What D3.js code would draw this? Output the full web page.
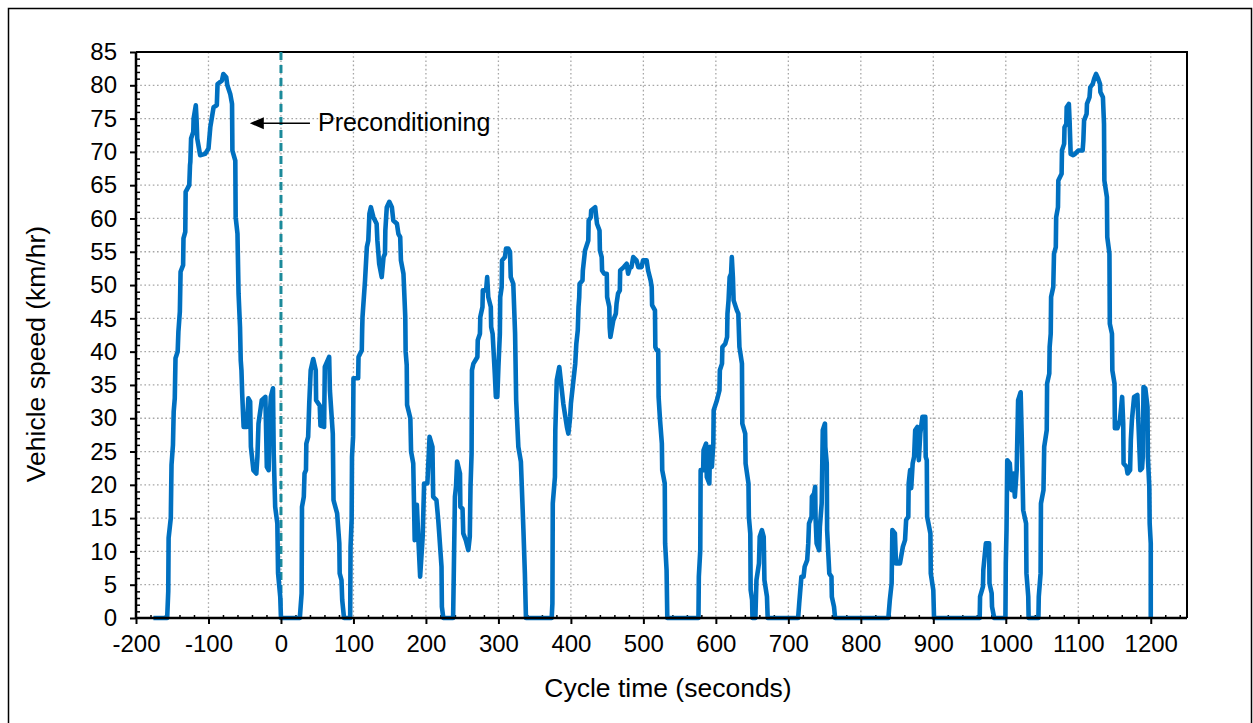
<!DOCTYPE html>
<html>
<head>
<meta charset="utf-8">
<script src="https://cdn.jsdelivr.net/npm/d3@7"></script>
<style>
  body { margin: 0; background: #fff; }
  svg { display: block; }
  text { font-family: "Liberation Sans", Arial, Helvetica, sans-serif; fill: #000; }
</style>
</head>
<body>
<svg id="chart" width="1253" height="723"></svg>
<script>
// Preconditioning run before the cycle starts (time in s, speed in km/h)
const preTime = [-176,-157,-155.5,-155,-152,-151,-149,-148,-146.5,-145.5,-142.5,-141.5,-139.5,-138.5,-135,-134.5,-132,-131.5,-126.5,-125.5,-125,-124,-121,-120.5,-117.5,-116.5,-115.5,-111.5,-104.5,-100,-97.5,-93,-88.5,-87.5,-81.5,-79.5,-75.5,-74,-70,-67.5,-67,-63,-62.5,-60,-58.5,-56.5,-55.5,-54.5,-53.5,-51.5,-47,-45,-42.5,-41.5,-38,-34,-32.5,-31,-26.5,-21.5,-20.5,-19.5,-17,-16,-14,-11,-10,-8,-5,-4,-1,0];
const preSpeed = [0,0,4,12,15,23,26,31,33,39,40,43,46,52,53,57,58,64,65,68,68.5,72,73,75,77,75,72,69.5,69.7,70.5,73.7,76.7,77,80.2,80.7,81.7,81.2,80,78.7,77.2,70.2,68.7,60.2,57.7,48.7,43.7,38.7,37.2,33.7,28.7,28.7,33,32.5,25.7,22.2,21.7,24.2,29.2,32.7,33.2,28.2,22.7,22.2,29.2,33.2,34.5,24.7,16.7,14.2,6.7,3.2,0];

// Test cycle, 0 to 1200 s
const cycleTime = [0,26,28.5,29,31.5,32.5,34.5,35,37.5,39,41,44.5,48,48.5,53.5,54.5,59.5,60.5,66.5,67.5,71.5,72.5,77.5,80.5,81,83.5,84.5,87,95.5,96,97.5,98,99.5,100,106.5,107,111.5,112,112.5,116,118.5,120.5,122,124,127.5,132,133,135.5,139,141.5,143.5,144,146,149.5,153,155,160,162,164.5,165.5,169,171.5,172,173.5,174,178.5,179.5,182.5,183.5,184.5,187.5,189.5,192,195.5,197.5,202,205,209,210,214.5,217,218,221.5,222,224,237.5,238.5,240,241.5,243,247,247.5,250.5,251.5,255,258.5,260.5,261.5,263,263.5,265.5,271,271.5,274.5,275,278,278.5,283,284.5,286,289.5,290,292,295,296.5,298.5,300,302,302.5,304.5,305,309,310.5,313.5,316,317,320.5,323,324.5,327.5,331,334.5,336.5,338,373.5,374.5,375,378,378.5,380.5,384,389.5,394.5,396.5,399,400,402.5,406,407.5,409.5,410.5,411.5,412,416,416.5,419.5,424,424.5,427.5,428,433.5,436,439.5,440,442.5,443,446,449.5,450,453,453.5,454.5,458.5,462,463,465,467.5,468,473,477,479,481.5,483.5,486,490.5,493,497.5,499.5,504.5,506.5,510,511.5,512,516,516.5,518.5,520.5,521,523,525.5,526,529.5,530,532,533,576,576.5,578.5,579,582.5,583,586.5,587.5,591,592,594.5,596.5,597,601.5,605,605.5,608.5,609,613,615.5,616,617.5,619,621,622,623.5,624.5,629,631,632.5,636,636.5,640.5,641,645,645.5,647.5,648,650,650.5,654.5,656,659.5,660.5,663.5,666,667,670.5,671.5,713.5,715,718,721,722.5,726,727.5,728.5,732,732.5,735.5,737,737.5,739,742.5,743.5,746,747.5,750.5,751,753,753.5,756.5,759.5,760,763,764.5,838,840,842.5,843.5,847,848.5,854,858,861,862.5,865.5,866,868,869.5,871.5,873.5,875,878,880,882,885,889,889.5,891,891.5,896,896.5,900,901,964,964.5,968.5,969,972.5,977,977.5,980.5,981,984,999.5,1000,1001,1002,1005.5,1008,1010.5,1012.5,1015,1017,1020.5,1022,1024,1028,1028.5,1031,1031.5,1045,1045.5,1048,1048.5,1052,1053,1056.5,1057,1060,1060.5,1062,1062.5,1065.5,1066.5,1069,1069.5,1072,1072.5,1077,1077.5,1080.5,1081,1083.5,1084,1087,1088,1089.5,1093,1095.5,1100,1106,1107,1108,1111.5,1112,1115.5,1116.5,1120,1122,1124.5,1127.5,1130,1130.5,1134,1135.5,1136,1139.5,1140,1143,1143.5,1146.5,1147,1150,1150.5,1154,1157.5,1160.5,1162,1162.5,1166.5,1168,1171.5,1172.5,1174,1177,1181.5,1183,1185.5,1188,1189,1190,1192.5,1195.5,1196,1198,1198.5,1200,1200];
const cycleSpeed = [0,0,3.7,16.7,18.2,21.7,22.2,26.2,27.2,32.2,37.2,38.9,37.2,32.7,31.9,28.9,28.7,37.7,39.2,34.2,27.7,17.7,15.7,11.2,6.7,5.7,2.7,0,0,10.7,14.7,24.2,27.2,36,36,39.2,40.2,43.2,45.2,50.7,55.7,56.7,60.7,61.7,60.2,59.2,56.7,53.2,51.2,54.2,54.7,58.2,61.7,62.5,61.7,59.7,59.2,57.7,57.2,53.7,51.7,45.2,40,38,32,30,25,23.2,17.5,11.7,17,12,6.2,12.2,20.2,20.2,27.2,25.7,18.2,17.7,14.7,13.2,7.7,1.7,0,0,7.2,18.2,19.7,23.5,21.7,16.7,16.4,12.7,11.7,10.2,12.2,19.7,24.7,37.2,38.2,39.2,41.7,42.7,45.2,46.7,49.2,49.2,51.2,48.2,46.7,43.7,42.7,36.7,33.2,33.2,37.7,42.7,48.2,49.7,53.7,54.2,55.5,55.5,55,51.2,50.2,42.7,32.7,25.7,23.5,13.2,6.7,0,0,2.2,17.2,21.2,28.2,35.7,37.7,32.2,28.7,27.7,30.2,32.2,34.7,38.2,41.2,43.2,46.7,48.2,50.2,50.7,52.2,55.2,56.7,59.7,60.2,61.2,61.7,59.2,58.2,55.2,54.2,52.2,51.7,51.7,48.2,46.7,43.7,42.2,44.7,45.7,47.2,48.7,49.2,52.2,52.7,53.2,51.7,52.7,52.7,54.2,53.7,52.7,52.7,53.7,53.7,52.2,50.7,49.7,47,46.2,40.7,40.2,40.2,33.2,29.7,26.2,22.2,20.2,11.2,7.2,0,0,6.2,10.2,22.2,22.2,25.2,26.2,21.2,20.2,25.7,22.7,26.2,31.2,32.7,34.2,37.2,38.2,40.7,41.2,42.2,45.7,47.7,51.2,51.7,54.2,51.2,47.7,46.2,45.7,40.7,38.2,29.2,27.7,23.2,20.2,15.2,12.7,4.2,2.7,0,0,5.7,8.2,12.2,13.2,12.2,5.7,3.2,0,0,2.2,6.2,6.2,7.7,8.7,11.2,14.2,15.2,18.2,18.7,19.7,15.2,11.2,10.2,13.7,17.2,28.2,29.2,25.7,23.2,13.2,6.7,6.2,3.2,1.7,0,0,2.7,5.2,13.2,12.7,8.2,8.2,10.7,11.7,14.7,15.2,20.2,22.2,19.5,23.2,24.2,28.2,28.7,23.7,27.7,30.2,30.2,24.2,23.7,15.2,12.7,6.7,4.2,0,0,3.2,4.7,7.2,11.2,11.2,5.2,3.7,1.7,0,0,8.2,13.2,23.7,23.2,19.2,21.7,18.2,22.2,32.7,33.9,27.2,16.2,14.2,6.7,3.2,0,0,3.2,6.7,17.2,19.2,25.7,28.2,35.2,36.7,40.7,42.7,48.2,49.7,54.7,55.7,60.2,61.7,65.7,66.7,70.2,71.2,73.7,74.2,76.7,77.2,74.7,69.7,69.5,69.7,70.2,70.2,71.7,74.7,75.7,77.2,78.2,79.7,80.2,81,81.7,81,80.2,79,78.2,74.2,65.7,63.2,57.2,54.7,44.2,42.7,37.2,35.2,28.5,28.5,29.7,33.2,29.2,23.2,22.7,21.7,22.2,26.7,29.7,33.2,33.5,29.2,22.2,22.5,24.2,34.7,34.5,31.7,24.2,19.7,14.2,11.2,0];

const xTicks = [-200,-100,0,100,200,300,400,500,600,700,800,900,1000,1100,1200];
const yTicks = [0,5,10,15,20,25,30,35,40,45,50,55,60,65,70,75,80,85];
const xDomain = [-200, 1250];
const yDomain = [0, 85];

// Label pointing back from the start of the cycle to the preconditioning run
const noteText = "Preconditioning";
const noteArrowFrom = 40;    // s
const noteArrowTo = -43;     // s
const noteSpeed = 74.3;      // km/h

const svg = d3.select("#chart");
const plot = { left: 136, right: 1187, top: 52, bottom: 618 };
const FONT = '"Liberation Sans", Arial, Helvetica, sans-serif';

const x = d3.scaleLinear().domain(xDomain).range([plot.left, plot.right]);
const y = d3.scaleLinear().domain(yDomain).range([plot.bottom, plot.top]);

// Outer frame
svg.append("rect")
  .attr("x", 8.5).attr("y", 8.5)
  .attr("width", 1243).attr("height", 730)
  .attr("fill", "none").attr("stroke", "#000").attr("stroke-width", 1.5);

// Dotted grid
const grid = svg.append("g").attr("stroke", "#a6a6a6").attr("stroke-width", 1.3)
  .attr("stroke-dasharray", "1.6,2.6");
grid.selectAll("line.h").data(yTicks.filter(v => v > 0 && v < 85)).join("line")
  .attr("x1", plot.left).attr("x2", plot.right)
  .attr("y1", d => y(d)).attr("y2", d => y(d));
grid.selectAll("line.v").data(xTicks.filter(v => v > -200)).join("line")
  .attr("x1", d => x(d)).attr("x2", d => x(d))
  .attr("y1", plot.top).attr("y2", plot.bottom);

// Frame around the plot area (top and right)
svg.append("path")
  .attr("d", `M${plot.left},${plot.top}H${plot.right}V${plot.bottom}`)
  .attr("fill", "none").attr("stroke", "#000").attr("stroke-width", 2);

// Start-of-cycle marker
svg.append("line")
  .attr("x1", x(0)).attr("x2", x(0))
  .attr("y1", plot.top).attr("y2", plot.bottom)
  .attr("stroke", "#1b8a9a").attr("stroke-width", 3)
  .attr("stroke-dasharray", "8,5");

// Minor ticks (inside)
const minorX = d3.range(-180, 1250, 20).filter(v => v % 100 !== 0);
const minorY = d3.range(1, 85, 1).filter(v => v % 5 !== 0);
svg.append("g").attr("transform", `translate(0,${plot.bottom})`)
  .call(d3.axisBottom(x).tickValues(minorX).tickSize(-3).tickFormat(""))
  .call(g => g.select(".domain").remove())
  .call(g => g.selectAll("line").attr("stroke-width", 1.5));
svg.append("g").attr("transform", `translate(${plot.left},0)`)
  .call(d3.axisLeft(y).tickValues(minorY).tickSize(-4).tickFormat(""))
  .call(g => g.select(".domain").remove())
  .call(g => g.selectAll("line").attr("stroke-width", 1.5));

// Speed trace
const line = d3.line().x(d => x(d[0])).y(d => y(d[1]));
const prePts = preTime.map((t, i) => [t, preSpeed[i]]);
const cyclePts = cycleTime.map((t, i) => [t, cycleSpeed[i]]);
svg.append("path")
  .datum(prePts.concat(cyclePts.slice(1)))
  .attr("d", line)
  .attr("fill", "none")
  .attr("stroke", "#0070c0")
  .attr("stroke-width", 4.6)
  .attr("stroke-linejoin", "round")
  .attr("stroke-linecap", "butt");

// Major axes
svg.append("g").attr("transform", `translate(0,${plot.bottom})`)
  .call(d3.axisBottom(x).tickValues(xTicks).tickSize(6).tickSizeOuter(0).tickPadding(11)
    .tickFormat(d => String(d)))
  .call(g => g.select(".domain").attr("stroke-width", 2.5).attr("d", `M${plot.left},0H${plot.right}`))
  .call(g => g.selectAll(".tick line").attr("stroke-width", 2))
  .call(g => g.selectAll("text").attr("font-size", 24).attr("fill", "#000").attr("font-family", FONT));
svg.append("g").attr("transform", `translate(${plot.left},0)`)
  .call(d3.axisLeft(y).tickValues(yTicks).tickSize(6).tickSizeOuter(0).tickPadding(13)
    .tickFormat(d => String(d)))
  .call(g => g.select(".domain").attr("stroke-width", 2.5).attr("d", `M0,${plot.top}V${plot.bottom}`))
  .call(g => g.selectAll(".tick line").attr("stroke-width", 2))
  .call(g => g.selectAll("text").attr("font-size", 24).attr("fill", "#000").attr("font-family", FONT));

// Axis titles
svg.append("text")
  .attr("x", 668).attr("y", 697)
  .attr("text-anchor", "middle").attr("font-size", 26.5)
  .text("Cycle time (seconds)");
svg.append("text")
  .attr("transform", `translate(45,354) rotate(-90)`)
  .attr("text-anchor", "middle").attr("font-size", 26.5)
  .text("Vehicle speed (km/hr)");

// Annotation arrow and label
const ay = y(noteSpeed);
const tipX = x(noteArrowTo);
svg.append("line")
  .attr("x1", x(noteArrowFrom)).attr("x2", tipX + 12)
  .attr("y1", ay).attr("y2", ay)
  .attr("stroke", "#000").attr("stroke-width", 1.6);
svg.append("path")
  .attr("d", `M${tipX},${ay}L${tipX + 14},${ay - 6}L${tipX + 14},${ay + 6}Z`)
  .attr("fill", "#000");
svg.append("text")
  .attr("x", x(noteArrowFrom) + 8).attr("y", ay + 8)
  .attr("font-size", 25)
  .text(noteText);
</script>
</body>
</html>
